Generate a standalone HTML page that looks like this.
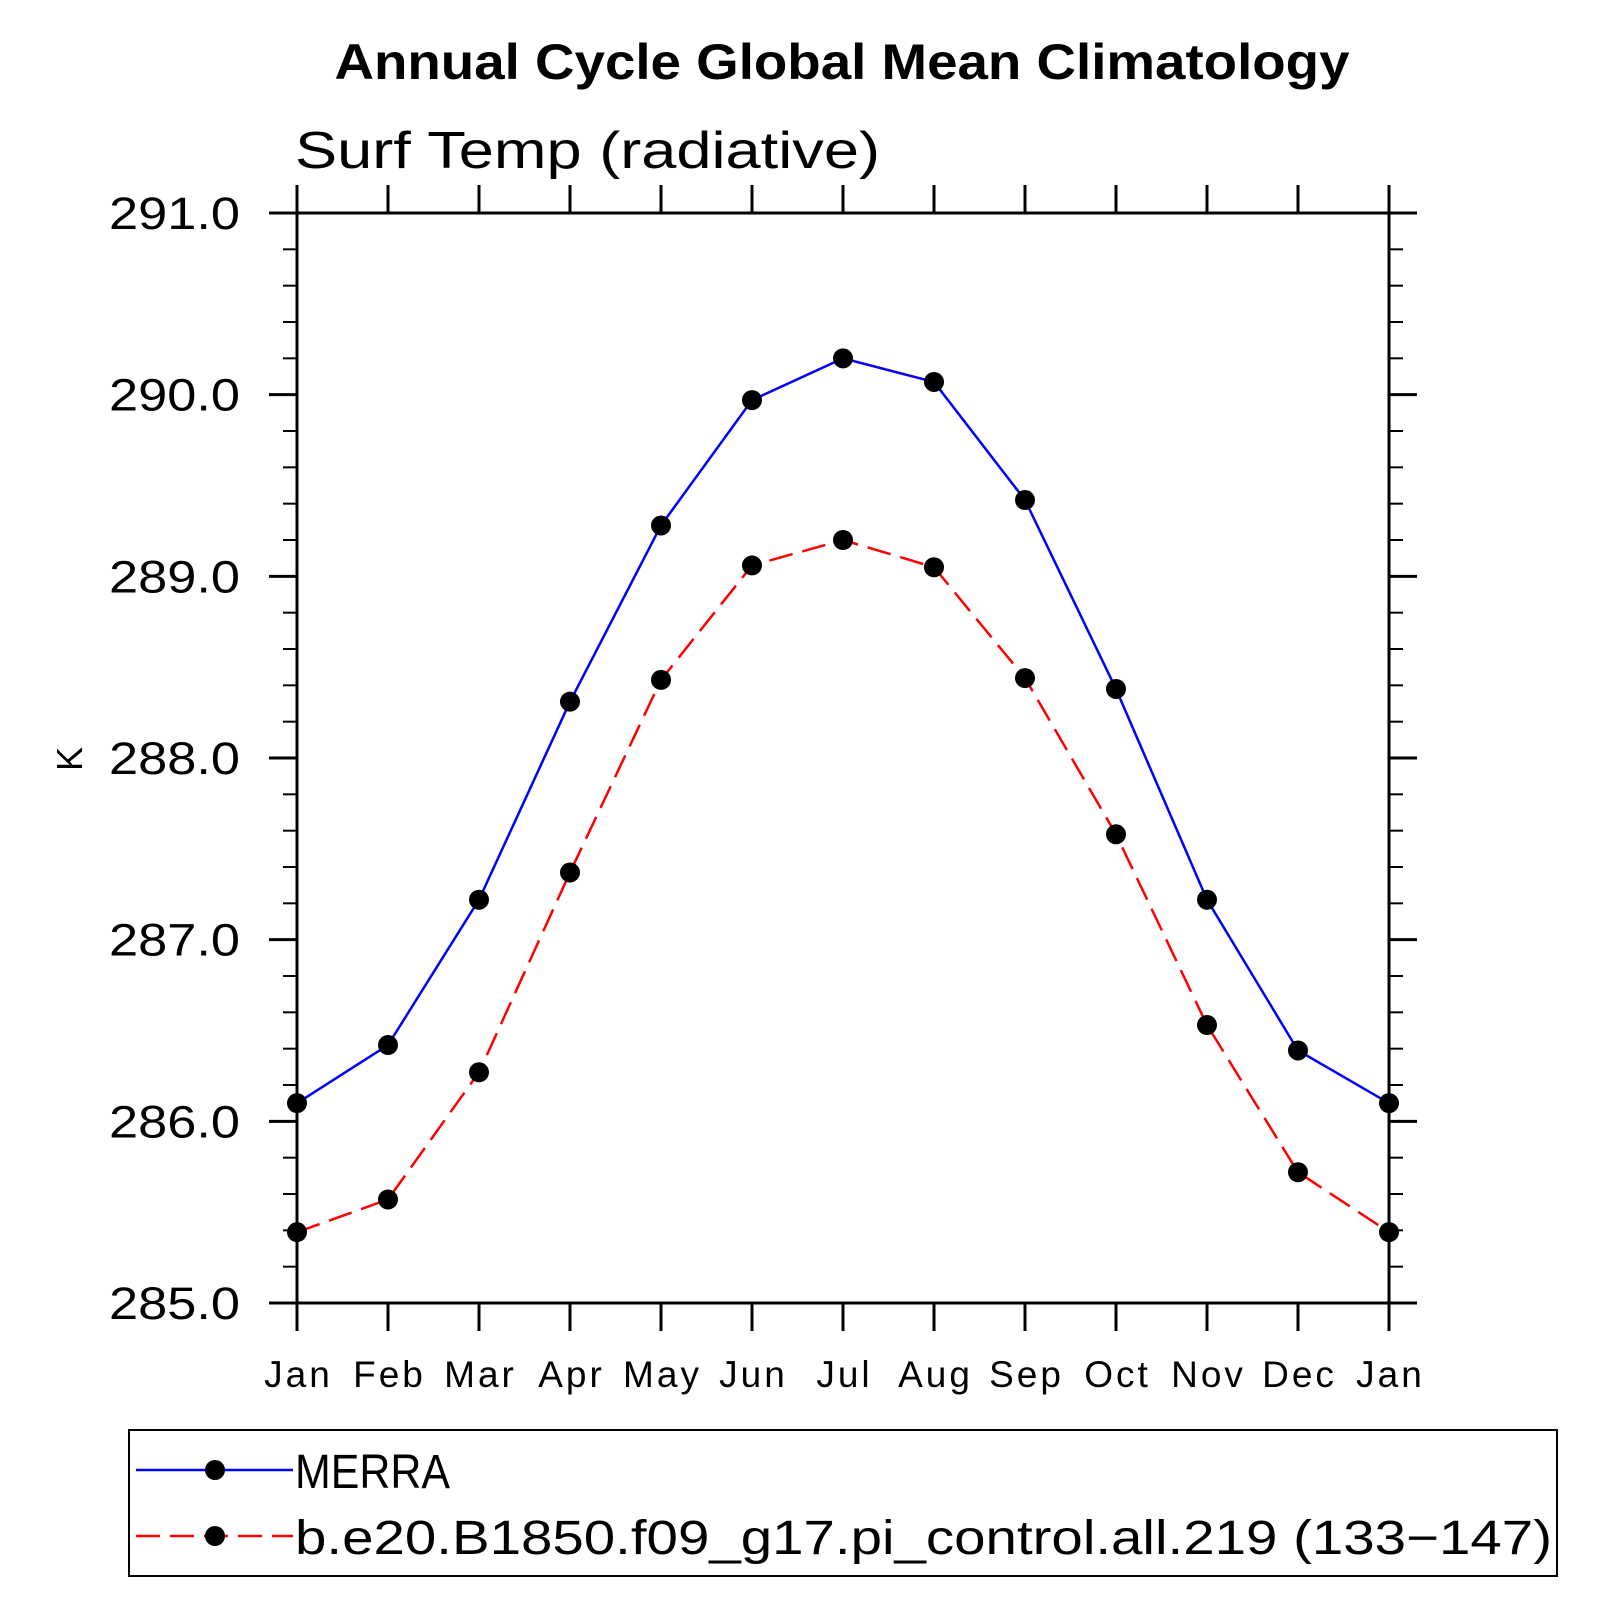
<!DOCTYPE html>
<html><head><meta charset="utf-8"><style>
html,body{margin:0;padding:0;background:#fff;}
svg{display:block;font-family:"Liberation Sans",sans-serif;}
</style></head><body>
<svg id="chart" width="1613" height="1613" viewBox="0 0 1613 1613" xmlns="http://www.w3.org/2000/svg">
<text x="842" y="79" font-size="50" font-weight="bold" text-anchor="middle" textLength="1015" lengthAdjust="spacingAndGlyphs">Annual Cycle Global Mean Climatology</text>
<text x="295" y="168" font-size="52" textLength="585" lengthAdjust="spacingAndGlyphs">Surf Temp (radiative)</text>
<text transform="translate(82,759) rotate(-90)" font-size="36" text-anchor="middle">K</text>
<g id="axes"></g>
<g id="series"></g>
<rect x="129" y="1430" width="1428" height="146" fill="none" stroke="#000" stroke-width="2"/>
<g>
<line x1="136" y1="1470" x2="293" y2="1470" stroke="#0000ff" stroke-width="2.5"/>
<circle cx="215" cy="1470" r="10" fill="#000"/>
<text x="295" y="1488" font-size="48" textLength="155" lengthAdjust="spacingAndGlyphs">MERRA</text>
</g>
<g>
<line x1="136" y1="1536" x2="293" y2="1536" stroke="#ff0000" stroke-width="2.5" stroke-dasharray="24,10"/>
<circle cx="215" cy="1536" r="10" fill="#000"/>
<text x="295" y="1554" font-size="48" textLength="1257" lengthAdjust="spacingAndGlyphs">b.e20.B1850.f09_g17.pi_control.all.219 (133−147)</text>
</g>
</svg>
<script>
const months = ["Jan","Feb","Mar","Apr","May","Jun","Jul","Aug","Sep","Oct","Nov","Dec","Jan"];
const merraValues = [286.10,286.42,287.22,288.31,289.28,289.97,290.20,290.07,289.42,288.38,287.22,286.39,286.10];
const modelValues = [285.39,285.57,286.27,287.37,288.43,289.06,289.20,289.05,288.44,287.58,286.53,285.72,285.39];
const yTickLabels = ["285.0","286.0","287.0","288.0","289.0","290.0","291.0"];

const L=297,R=1389,T=213,B=1303,YMIN=285,YMAX=291;
const NS="http://www.w3.org/2000/svg";
function xs(i){return L+i*(R-L)/(months.length-1);}
function ys(v){return B-(v-YMIN)*(B-T)/(YMAX-YMIN);}
function mk(tag,attrs,parent){const e=document.createElementNS(NS,tag);for(const k in attrs)e.setAttribute(k,attrs[k]);parent.appendChild(e);return e;}
const ax=document.getElementById('axes');
const frame=mk('rect',{x:L,y:T,width:R-L,height:B-T,fill:'none',stroke:'#000','stroke-width':3},ax);


months.forEach((m,i)=>{
  const x=xs(i);
  mk('line',{x1:x,y1:B,x2:x,y2:B+28,stroke:'#000','stroke-width':3},ax);
  mk('line',{x1:x,y1:T,x2:x,y2:T-28,stroke:'#000','stroke-width':3},ax);
  const t=mk('text',{x:x+1.5,y:1387,'font-size':37,'text-anchor':'middle','letter-spacing':3},ax);
  t.textContent=m;
  
  
});
for(let k=0;k<=30;k++){
  const v=YMIN+k*0.2,y=ys(v),major=k%5===0,len=major?28:14;
  mk('line',{x1:L-len,y1:y,x2:L,y2:y,stroke:'#000','stroke-width':major?3:2},ax);
  mk('line',{x1:R,y1:y,x2:R+len,y2:y,stroke:'#000','stroke-width':major?3:2},ax);
}
yTickLabels.forEach(s=>{
  const v=parseFloat(s);
  const t=mk('text',{x:109,y:ys(v)+16,'font-size':45,textLength:131,lengthAdjust:'spacingAndGlyphs'},ax);
  t.textContent=s;
  
  
});
const sg=document.getElementById('series');
function drawSeries(vals,color,dash,name){
  const pts=vals.map((v,i)=>xs(i)+','+ys(v)).join(' ');
  const pl=mk('polyline',{points:pts,fill:'none',stroke:color,'stroke-width':2.5},sg);
  if(dash)pl.setAttribute('stroke-dasharray',dash);
  
  
  vals.forEach((v,i)=>{
    const c=mk('circle',{cx:xs(i),cy:ys(v),r:10,fill:'#000'},sg);
    
    
  });
}
drawSeries(merraValues,'#0000ff',null,'merra');
drawSeries(modelValues,'#ff0000','24,10','model');
</script>
</body></html>
